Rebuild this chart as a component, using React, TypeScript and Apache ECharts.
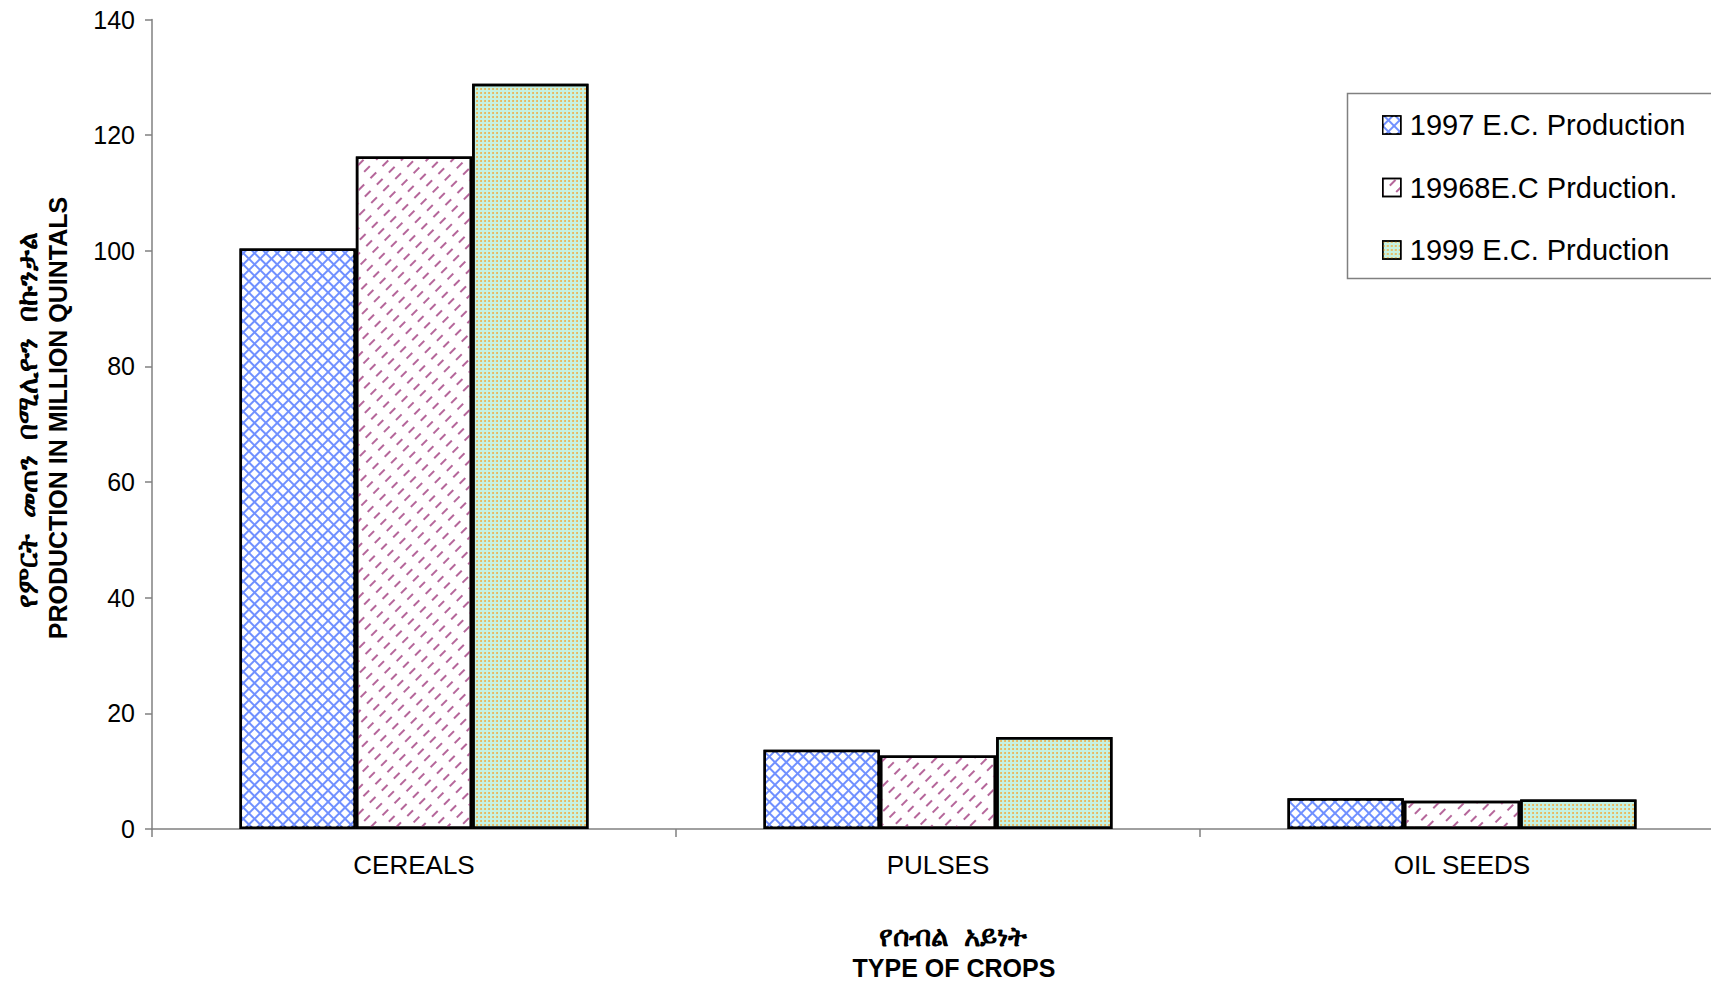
import React, { useEffect, useRef } from "react";
import * as echarts from "echarts";

const categories = ["CEREALS", "PULSES", "OIL SEEDS"];
const seriesNames = ["1997 E.C. Production", "19968E.C Prduction.", "1999 E.C. Prduction"];
const values1997 = [100.4, 13.7, 5.3];
const values1998 = [116.3, 12.7, 4.9];
const values1999 = [128.9, 15.9, 5.1];
const yTitleAm = "የምርት  መጠን  በሚሊዮን  በኩንታል";
const yTitleEn = "PRODUCTION IN MILLION QUINTALS";
const xTitleAm = "የሰብል  አይነት";
const xTitleEn = "TYPE OF CROPS";

const FONT = "'Liberation Sans', Arial, 'DejaVu Sans', 'Noto Sans', sans-serif";

export default function App() {
  const ref = useRef<HTMLDivElement>(null);
  useEffect(() => {
    if (!ref.current) return;
    const chart = echarts.init(ref.current, null, { renderer: "svg" });
    const border = { borderColor: "#000", borderWidth: 2.5 };
    const titleStyle = (text: string, size: number) => ({
      text,
      fontSize: size,
      fontWeight: "bold",
      lineHeight: size,
      fill: "#000",
      fontFamily: FONT,
      textAlign: "center",
      textVerticalAlign: "middle",
    });
    chart.setOption({
      animation: false,
      backgroundColor: "#fff",
      textStyle: { fontFamily: FONT },
      grid: {
        left: 152,
        top: 19.6,
        width: 1572,
        bottom: 152,
        containLabel: false,
        outerBoundsMode: "none",
      },
      legend: {
        orient: "vertical",
        left: 1347,
        top: 93,
        padding: [17, 20, 16, 35],
        borderWidth: 0,
        itemWidth: 18,
        itemHeight: 18,
        itemGap: 32.5,
        icon: "rect",
        itemStyle: { borderColor: "#000", borderWidth: 1.5 },
        textStyle: { fontSize: 29, lineHeight: 30, color: "#000", fontFamily: FONT, padding: [0, 0, 0, 4] },
        data: seriesNames,
      },
      xAxis: {
        type: "category",
        data: categories,
        axisLine: { lineStyle: { color: "#808080", width: 1.5 } },
        axisTick: { show: true, length: 8, lineStyle: { color: "#808080", width: 1.5 } },
        axisLabel: { fontSize: 26, color: "#000", margin: 23, fontFamily: FONT },
      },
      yAxis: {
        type: "value",
        min: 0,
        max: 140,
        interval: 20,
        axisLine: { show: true, lineStyle: { color: "#808080", width: 1.5 } },
        axisTick: { show: true, length: 7, lineStyle: { color: "#808080", width: 1.5 } },
        splitLine: { show: false },
        axisLabel: { fontSize: 25, color: "#000", margin: 17, fontFamily: FONT },
      },
      graphic: [
        {
          type: "rect",
          shape: { x: 1347.5, y: 93.5, width: 420, height: 185 },
          style: { fill: "none", stroke: "#808080", lineWidth: 1.5 },
          z: 0,
        },
        { type: "text", x: 27, y: 420, rotation: Math.PI / 2, style: titleStyle(yTitleAm, 28) },
        { type: "text", x: 58, y: 418, rotation: Math.PI / 2, style: titleStyle(yTitleEn, 25) },
        { type: "text", x: 953, y: 936, style: titleStyle(xTitleAm, 28) },
        { type: "text", x: 954, y: 968, style: titleStyle(xTitleEn, 25) },
      ],
      series: [
        {
          name: seriesNames[0],
          type: "bar",
          data: values1997,
          barGap: "0%",
          barCategoryGap: "33.4%",
          itemStyle: {
            color: "#7090ff",
            ...border,
            decal: {
              symbol: "rect",
              symbolSize: 1,
              color: "#ffffff",
              dashArrayX: [6, 1.4],
              dashArrayY: [6, 1.4],
              rotation: Math.PI / 4,
            },
          },
        },
        {
          name: seriesNames[1],
          type: "bar",
          data: values1998,
          barGap: "0%",
          barCategoryGap: "33.4%",
          itemStyle: {
            color: "#ffffff",
            ...border,
            decal: {
              symbol: "rect",
              symbolSize: 1,
              color: "#b5669a",
              dashArrayX: [[8, 9]],
              dashArrayY: [1.7, 6.8],
              rotation: -Math.PI / 4,
            },
          },
        },
        {
          name: seriesNames[2],
          type: "bar",
          data: values1999,
          barGap: "0%",
          barCategoryGap: "33.4%",
          itemStyle: {
            color: "#c6f2e2",
            ...border,
            decal: {
              symbol: "circle",
              symbolSize: 0.9,
              color: "#f2a93b",
              dashArrayX: [2, 2],
              dashArrayY: [2, 2],
            },
          },
        },
      ],
    });
    return () => chart.dispose();
  }, []);
  return (
    <div
      ref={ref}
      style={{ position: "fixed", left: 0, top: 0, width: 1711, height: 981, background: "#fff" }}
    />
  );
}
